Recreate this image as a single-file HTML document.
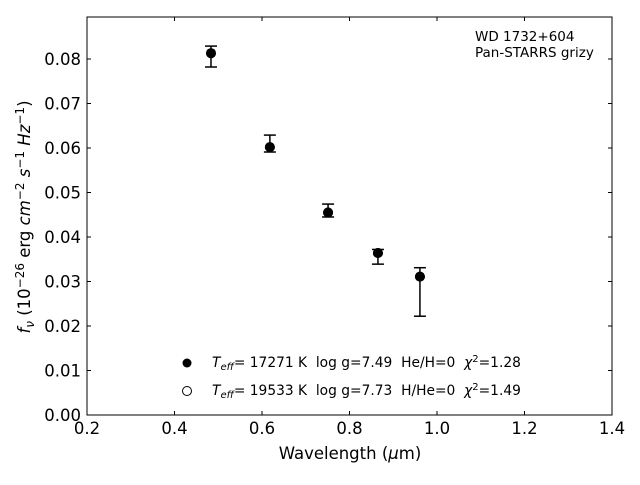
<!DOCTYPE html>
<html><head><meta charset="utf-8"><style>
body{margin:0;background:#fff}
svg{font-family:"DejaVu Sans","Liberation Sans",sans-serif}
text{white-space:pre}
</style></head><body>
<svg id="chart" width="640" height="480" xmlns="http://www.w3.org/2000/svg" xml:space="preserve">
<rect x="0" y="0" width="640" height="480" fill="#fff"/>
<g id="plot"></g>
<rect x="87" y="17" width="525" height="398" fill="none" stroke="#000" stroke-width="1"/>
<text x="475" y="41" font-size="13.5">WD 1732+604</text>
<text x="475" y="57" font-size="13.5">Pan-STARRS grizy</text>
<text x="350" y="459" font-size="16.5" text-anchor="middle">Wavelength (<tspan font-style="italic">μ</tspan>m)</text>
<text transform="translate(30,217) rotate(-90)" font-size="16.5" text-anchor="middle"><tspan font-style="italic">f</tspan><tspan font-style="italic" font-size="12" dy="4">ν</tspan><tspan dy="-4"> (10</tspan><tspan font-size="12" dy="-6">−26</tspan><tspan dy="6"> erg </tspan><tspan font-style="italic">cm</tspan><tspan font-size="12" dy="-6">−2</tspan><tspan dy="6"> </tspan><tspan font-style="italic">s</tspan><tspan font-size="12" dy="-6">−1</tspan><tspan dy="6"> </tspan><tspan font-style="italic">Hz</tspan><tspan font-size="12" dy="-6">−1</tspan><tspan dy="6">)</tspan></text>
<g>
<circle cx="187" cy="363" r="4.5" fill="#000"/>
<text x="212" y="367" font-size="13.8"><tspan font-style="italic">T</tspan><tspan font-style="italic" font-size="10" dy="3">eff</tspan><tspan dy="-3">= 17271 K  log g=7.49  He/H=0  </tspan><tspan font-style="italic">χ</tspan><tspan font-size="10" dy="-5">2</tspan><tspan dy="5">=1.28</tspan></text>
<circle cx="187" cy="391" r="4.5" fill="#fff" stroke="#000"/>
<text x="212" y="395" font-size="13.8"><tspan font-style="italic">T</tspan><tspan font-style="italic" font-size="10" dy="3">eff</tspan><tspan dy="-3">= 19533 K  log g=7.73  H/He=0  </tspan><tspan font-style="italic">χ</tspan><tspan font-size="10" dy="-5">2</tspan><tspan dy="5">=1.49</tspan></text>
</g>
</svg>
<script>
const wavelengths=[0.4834,0.618,0.751,0.865,0.961];
const fluxes=[0.0813,0.0602,0.0455,0.0364,0.0311];
const errUpper=[0.0829,0.0629,0.0474,0.0372,0.0331];
const errLower=[0.0782,0.0591,0.0445,0.0339,0.0222];
const modelHHe=[0.0813,0.0602,0.0455,0.0364,0.0311];
const xTicks=[0.2,0.4,0.6,0.8,1.0,1.2,1.4];
const xTickLabels=["0.2","0.4","0.6","0.8","1.0","1.2","1.4"];
const yTicks=[0,0.01,0.02,0.03,0.04,0.05,0.06,0.07,0.08];
const yTickLabels=["0.00","0.01","0.02","0.03","0.04","0.05","0.06","0.07","0.08"];
const NS='http://www.w3.org/2000/svg';
const X0=87,X1=612,Y0=415,Y1=17;
const xs=v=>X0+(v-0.2)/1.2*(X1-X0);
const ys=v=>Y0-v*4450;
const g=document.getElementById('plot');
function mk(t,a){const e=document.createElementNS(NS,t);for(const k in a)e.setAttribute(k,a[k]);g.appendChild(e);return e;}
xTicks.forEach((v,i)=>{
 const x=xs(v);
 let t=mk('line',{x1:x,x2:x,y1:Y0,y2:Y0-4,stroke:'#000'});
 
 
 t=mk('line',{x1:x,x2:x,y1:Y1,y2:Y1+4,stroke:'#000'});
 
 
 const l=mk('text',{x:x,y:434,'font-size':16.5,'text-anchor':'middle'});l.textContent=xTickLabels[i];
 
 
});
yTicks.forEach((v,i)=>{
 const y=ys(v);
 let t=mk('line',{x1:X0,x2:X0+4,y1:y,y2:y,stroke:'#000'});
 
 
 t=mk('line',{x1:X1,x2:X1-4,y1:y,y2:y,stroke:'#000'});
 
 
 const l=mk('text',{x:81,y:y+6,'font-size':16.5,'text-anchor':'end'});l.textContent=yTickLabels[i];
 
 
});
wavelengths.forEach((w,i)=>{
 const x=xs(w);
 let e=mk('line',{x1:x,x2:x,y1:ys(errUpper[i]),y2:ys(errLower[i]),stroke:'#000','stroke-width':1.5});
 
 
 [errUpper[i],errLower[i]].forEach(v=>{
  const c=mk('line',{x1:x-6,x2:x+6,y1:ys(v),y2:ys(v),stroke:'#000','stroke-width':1.5});
  
  
 });
 const o=mk('circle',{cx:x,cy:ys(modelHHe[i]),r:4.5,fill:'#fff',stroke:'#000'});
 
 
 const p=mk('circle',{cx:x,cy:ys(fluxes[i]),r:5,fill:'#000'});
 
 
});
</script>
</body></html>
